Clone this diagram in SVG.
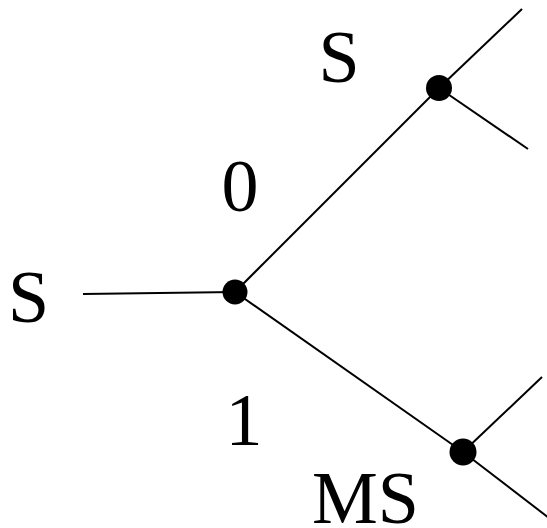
<svg xmlns="http://www.w3.org/2000/svg" width="547" height="528" viewBox="0 0 547 528">
<style>
text{font-family:'Liberation Serif','Times New Roman',serif;font-size:74px;fill:#000}
.e{stroke:#000;stroke-width:2;fill:none}
.d{fill:#000}
</style>
<rect width="547" height="528" fill="#fff"/>
<g id="connectors">
<line class="e" x1="83" y1="294" x2="235" y2="292"/>
<line class="e" x1="235" y1="292" x2="439" y2="88"/>
<line class="e" x1="235" y1="292" x2="463" y2="452"/>
<line class="e" x1="439" y1="88" x2="522" y2="9"/>
<line class="e" x1="439" y1="88" x2="528" y2="149"/>
<line class="e" x1="463" y1="452" x2="542" y2="377"/>
<line class="e" x1="463" y1="452" x2="549" y2="518"/>
</g>
<g id="root"><circle class="d" cx="235" cy="292" r="12.5"/></g>
<g id="upper"><circle class="d" cx="439" cy="88" r="13"/></g>
<g id="lower"><circle class="d" cx="463" cy="452" r="13.5"/></g>
<g id="labels">
<text x="8" y="322">S</text>
<text x="339" y="82" text-anchor="middle">S</text>
<text x="240" y="211" text-anchor="middle">0</text>
<text x="244" y="445" text-anchor="middle">1</text>
<text x="312" y="523">MS</text>
</g>
</svg>
